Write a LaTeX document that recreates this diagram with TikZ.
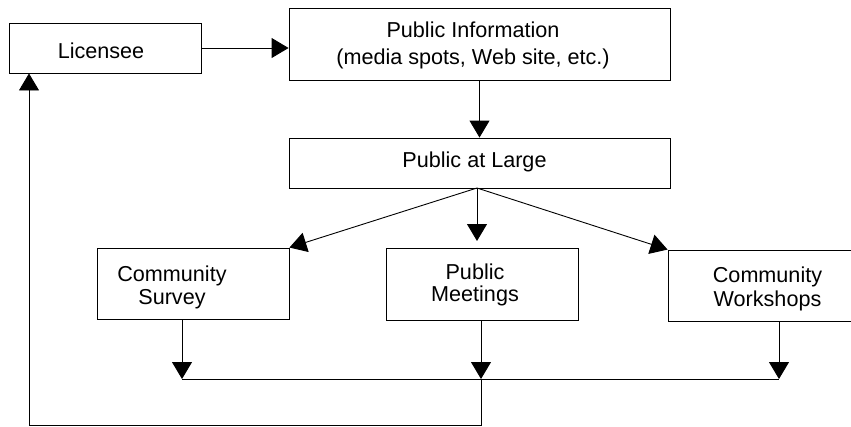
\documentclass[tikz,border=0pt]{standalone}
\usepackage{fontspec}
\setmainfont{Liberation Sans}
\usetikzlibrary{arrows.meta}
\begin{document}
\begin{tikzpicture}[x=1pt,y=-1pt,
  box/.style={draw, line width=0.9pt, inner sep=0pt},
  txt/.style={align=center, inner sep=0pt, anchor=base},
  fs/.style={font=\fontsize{21.6}{#1}\selectfont},
  conn/.style={line width=0.9pt},
  arr/.style={conn, -{Triangle[length=17pt,width=20pt]}}]
\useasboundingbox (0,0) rectangle (851,426);
% boxes
\node[box, minimum width=192pt, minimum height=50pt] (lic) at (105,48) {};
\node[box, minimum width=381pt, minimum height=72pt] (pi) at (479.5,44) {};
\node[box, minimum width=381pt, minimum height=50pt] (pal) at (479.5,163) {};
\node[box, minimum width=192pt, minimum height=71pt] (cs) at (193,283.5) {};
\node[box, minimum width=192pt, minimum height=72pt] (pm) at (482,284) {};
\node[box, minimum width=192pt, minimum height=71pt] (cw) at (764,285.5) {};
% texts (base anchor = baseline of last line)
\node[txt, fs=23] (tlic) at (101,58) {Licensee};
\node[txt, fs=26.3] (tpi) at (473,64) {Public Information\\(media spots, Web site, etc.)};
\node[txt, fs=23] (tpal) at (474.5,167) {Public at Large};
\node[txt, fs=22.6] (tcs) at (172,304.3) {Community\\Survey};
\node[txt, fs=22] (tpm) at (475,301) {Public\\Meetings};
\node[txt, fs=24.4] (tcw) at (767.5,306.7) {Community\\Workshops};
% coordinates
\coordinate (hub) at (477,188);
\coordinate (j1) at (182,379);
\coordinate (j2) at (481,379);
\coordinate (j3) at (779,379);
\coordinate (c1) at (481,425);
\coordinate (c2) at (29,425);
% connectors
\draw[arr] (lic.east) -- (lic.east -| pi.west);
\draw[arr] (pi.south) -- (pal.north);
\draw[arr] (hub) -- (hub |- 0,241);
\draw[arr] (hub) -- (cs.north east);
\draw[arr] (hub) -- (cw.north west);
\draw[arr] (cs.south -| j1) -- (j1);
\draw[arr] (pm.south -| j2) -- (j2);
\draw[arr] (cw.south -| j3) -- (j3);
\draw[conn] (j1) -- (j3);
\draw[arr] (j2) -- (c1) -- (c2) -- (lic.south -| c2);
\end{tikzpicture}
\end{document}
